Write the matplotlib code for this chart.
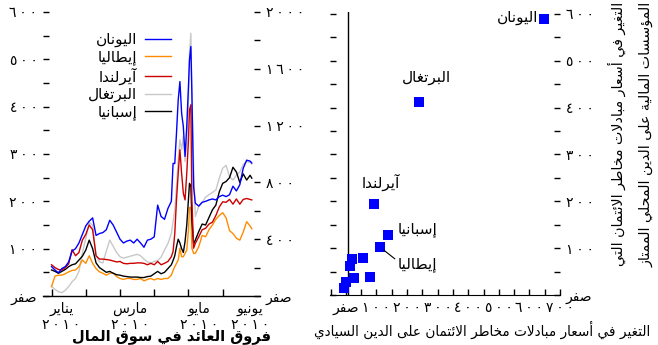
import re
import matplotlib
matplotlib.use("Agg")
import matplotlib.pyplot as plt
from matplotlib.ticker import MultipleLocator, FuncFormatter

plt.rcParams['font.family'] = ['DejaVu Sans']

# ---------------------------------------------------------------- Arabic text
# (isolated, final, initial, medial) presentation forms
_FORMS = {
    'ء': ('\uFE80', None, None, None),
    'آ': ('\uFE81', '\uFE82', None, None),
    'أ': ('\uFE83', '\uFE84', None, None),
    'ؤ': ('\uFE85', '\uFE86', None, None),
    'إ': ('\uFE87', '\uFE88', None, None),
    'ئ': ('\uFE89', '\uFE8A', '\uFE8B', '\uFE8C'),
    'ا': ('\uFE8D', '\uFE8E', None, None),
    'ب': ('\uFE8F', '\uFE90', '\uFE91', '\uFE92'),
    'ة': ('\uFE93', '\uFE94', None, None),
    'ت': ('\uFE95', '\uFE96', '\uFE97', '\uFE98'),
    'ث': ('\uFE99', '\uFE9A', '\uFE9B', '\uFE9C'),
    'ج': ('\uFE9D', '\uFE9E', '\uFE9F', '\uFEA0'),
    'ح': ('\uFEA1', '\uFEA2', '\uFEA3', '\uFEA4'),
    'خ': ('\uFEA5', '\uFEA6', '\uFEA7', '\uFEA8'),
    'د': ('\uFEA9', '\uFEAA', None, None),
    'ذ': ('\uFEAB', '\uFEAC', None, None),
    'ر': ('\uFEAD', '\uFEAE', None, None),
    'ز': ('\uFEAF', '\uFEB0', None, None),
    'س': ('\uFEB1', '\uFEB2', '\uFEB3', '\uFEB4'),
    'ش': ('\uFEB5', '\uFEB6', '\uFEB7', '\uFEB8'),
    'ص': ('\uFEB9', '\uFEBA', '\uFEBB', '\uFEBC'),
    'ض': ('\uFEBD', '\uFEBE', '\uFEBF', '\uFEC0'),
    'ط': ('\uFEC1', '\uFEC2', '\uFEC3', '\uFEC4'),
    'ظ': ('\uFEC5', '\uFEC6', '\uFEC7', '\uFEC8'),
    'ع': ('\uFEC9', '\uFECA', '\uFECB', '\uFECC'),
    'غ': ('\uFECD', '\uFECE', '\uFECF', '\uFED0'),
    'ف': ('\uFED1', '\uFED2', '\uFED3', '\uFED4'),
    'ق': ('\uFED5', '\uFED6', '\uFED7', '\uFED8'),
    'ك': ('\uFED9', '\uFEDA', '\uFEDB', '\uFEDC'),
    'ل': ('\uFEDD', '\uFEDE', '\uFEDF', '\uFEE0'),
    'م': ('\uFEE1', '\uFEE2', '\uFEE3', '\uFEE4'),
    'ن': ('\uFEE5', '\uFEE6', '\uFEE7', '\uFEE8'),
    'ه': ('\uFEE9', '\uFEEA', '\uFEEB', '\uFEEC'),
    'و': ('\uFEED', '\uFEEE', None, None),
    'ى': ('\uFEEF', '\uFEF0', None, None),
    'ي': ('\uFEF1', '\uFEF2', '\uFEF3', '\uFEF4'),
}
_LAMALEF = {'آ': ('\uFEF5', '\uFEF6'), 'أ': ('\uFEF7', '\uFEF8'),
            'إ': ('\uFEF9', '\uFEFA'), 'ا': ('\uFEFB', '\uFEFC')}
_DIGITS = '0123456789\u0660\u0661\u0662\u0663\u0664\u0665\u0666\u0667\u0668\u0669\u2009'


def _shape(text):
    toks, i = [], 0
    while i < len(text):
        c = text[i]
        if c == 'ل' and i + 1 < len(text) and text[i + 1] in _LAMALEF:
            toks.append(('LA', text[i + 1]))
            i += 2
        else:
            toks.append(c)
            i += 1
    out = []
    for k, t in enumerate(toks):
        prev = toks[k - 1] if k > 0 else None
        nxt = toks[k + 1] if k + 1 < len(toks) else None
        prev_joins = isinstance(prev, str) and prev in _FORMS and _FORMS[prev][2] is not None
        if isinstance(t, tuple):
            iso, fin = _LAMALEF[t[1]]
            out.append(fin if prev_joins else iso)
            continue
        f = _FORMS.get(t)
        if f is None:
            out.append(t)
            continue
        next_ar = nxt is not None and (isinstance(nxt, tuple) or nxt in _FORMS)
        can_next = f[2] is not None and next_ar
        can_prev = prev_joins and f[1] is not None
        if can_prev and can_next:
            out.append(f[3])
        elif can_prev:
            out.append(f[1])
        elif can_next:
            out.append(f[2])
        else:
            out.append(f[0])
    return ''.join(out)


def ar(text):
    """Shape Arabic text and lay it out right-to-left for display."""
    lines = []
    for line in text.split('\n'):
        s = _shape(line)
        parts = re.findall('[%s]+|[^%s]+' % (_DIGITS, _DIGITS), s)
        lines.append(''.join(p if p[0] in _DIGITS else p[::-1] for p in reversed(parts)))
    return '\n'.join(lines)


_IND = str.maketrans('0123456789', '\u0660\u0661\u0662\u0663\u0664\u0665\u0666\u0667\u0668\u0669')


def ar_digits(s):
    # Arabic-Indic digits, loosely spaced
    return '\u2009'.join(str(s).translate(_IND))


def ar_num(v):
    v = int(round(v))
    return ar('صفر') if v == 0 else ar_digits(v)


# ---------------------------------------------------------------- data
# time axis in months since 1 January 2010
months = [0.0, 0.1, 0.2, 0.3, 0.4, 0.5, 0.6, 0.7, 0.8, 0.9,
          1.0, 1.1, 1.2, 1.3, 1.4, 1.5, 1.6, 1.7, 1.8, 1.9,
          2.0, 2.1, 2.2, 2.3, 2.4, 2.5, 2.6, 2.7, 2.8, 2.9,
          3.0, 3.1, 3.2, 3.3, 3.4, 3.5,
          3.55, 3.6, 3.65, 3.7, 3.75, 3.8, 3.85, 3.9, 3.95, 4.0,
          4.03, 4.07, 4.1, 4.15, 4.2,
          4.3, 4.4, 4.5, 4.6, 4.7, 4.8, 4.9, 5.0, 5.1, 5.2, 5.3, 5.4, 5.5, 5.6, 5.7, 5.8,
          5.85]

greece = [62, 55, 49, 58, 62, 72, 95, 100, 112, 130,
          148, 158, 165, 128, 132, 134, 140, 160, 150, 135,
          120, 112, 116, 118, 112, 120, 112, 103, 118, 120,
          125, 192, 168, 162, 185, 200,
          280, 280, 344, 414, 453, 386, 358, 295, 358, 443,
          499, 527, 428, 231, 196,
          190, 198, 200, 203, 205, 203, 210, 213, 210, 214, 232, 222, 235, 270, 287, 285,
          281]

italy = [20, 42, 44, 44, 47, 51, 54, 55, 62, 76,
         69, 85, 69, 58, 51, 48, 44, 48, 49, 41,
         37, 35, 37, 37, 35, 35, 37, 32, 35, 37,
         34, 37, 35, 37, 37, 44,
         54, 62, 69, 76, 101, 83, 83, 90, 97, 140,
         187, 187, 101, 90, 90,
         104, 128, 125, 140, 150, 162, 170, 176, 165, 138, 132, 122, 118, 135, 157, 148,
         142]

ireland = [66, 60, 56, 55, 60, 68, 98, 85, 92, 118,
           130, 150, 140, 85, 78, 78, 77, 76, 74, 72,
           73, 69, 68, 69, 69, 70, 70, 69, 66, 69,
           66, 73, 66, 69, 73, 83,
           94, 132, 203, 259, 309, 259, 217, 203, 259, 330,
           393, 404, 203, 101, 111,
           125, 140, 143, 152, 156, 170, 188, 199, 198, 204, 194, 205, 194, 204, 206, 204,
           203]

portugal = [20, 14, 9, 7, 12, 20, 30, 37, 52, 90,
            122, 155, 150, 85, 72, 70, 95, 118, 105, 92,
            83, 80, 82, 84, 86, 88, 85, 78, 72, 70,
            73, 75, 82, 97, 111, 132,
            157, 182, 231, 288, 330, 309, 337, 284, 323, 414,
            513, 555, 428, 273, 168,
            189, 197, 209, 214, 219, 224, 249, 270, 276, 252, 245, 255, 262, 278, 284, 282,
            279]

spain = [55, 52, 48, 52, 56, 62, 66, 68, 76, 84,
         97, 118, 100, 70, 60, 55, 50, 52, 48, 45,
         44, 42, 41, 40, 40, 40, 39, 39, 41, 42,
         47, 52, 47, 50, 58, 66,
         75, 85, 104, 120, 112, 100, 92, 115, 150, 205,
         238, 232, 160, 110, 118,
         136, 152, 150, 166, 182, 192, 220, 238, 242, 250, 272, 262, 240, 258, 245, 255,
         249]

month_ticks = [0, 1, 2, 3, 4, 5]
month_label_pos = [0.29, 2.29, 4.31, 5.8]
month_labels = ['يناير', 'مارس', 'مايو', 'يونيو']
year_label = '2010'

# change in sovereign CDS (x) against change in financial-sector CDS (y)
scatter_names = ['اليونان', 'البرتغال', 'آيرلندا', 'إسبانيا', 'إيطاليا',
                 '', '', '', '', '', '', '']
scatter_x = [648, 240, 91, 136, 110, 19, 12, 56, 27, 78, -7, -1]
scatter_y = [589, 411, 194, 127, 103, 77, 62, 80, 37, 38, 15, 28]

# ---------------------------------------------------------------- figure
W, H = 658, 345
fig = plt.figure(figsize=(W / 100, H / 100), dpi=100)

TICK_FS = 10
BLUE = '#0000FF'

# ---- left panel: spreads over time
ax = fig.add_axes([43 / W, (H - 296) / H, 217 / W, 284 / H])
ax.set_xlim(-0.25, 6.09)
ax.set_ylim(0, 600)
for s in ['top', 'left', 'right']:
    ax.spines[s].set_visible(False)
ax.spines['bottom'].set_linewidth(1.0)

series = [
    ('البرتغال', portugal, '#C8C8C8'),
    ('إيطاليا', italy, '#FF8C00'),
    ('إسبانيا', spain, '#000000'),
    ('آيرلندا', ireland, '#CC0000'),
    ('اليونان', greece, BLUE),
]
handles = {}
for name, vals, col in series:
    ln, = ax.plot(months, vals, color=col, lw=1.0)
    handles[name] = ln

ax.yaxis.set_major_locator(MultipleLocator(100))
ax.yaxis.set_minor_locator(MultipleLocator(50))
ax.yaxis.set_major_formatter(FuncFormatter(lambda v, p: ar_num(v)))
ax.tick_params(axis='y', which='both', direction='in', length=4, width=1, labelsize=TICK_FS, pad=4)

ax.set_xticks(month_ticks)
ax.set_xticklabels([''] * len(month_ticks))
ax.tick_params(axis='x', which='major', direction='in', length=5, width=1)
ax.set_xticks(month_label_pos, minor=True)
ax.set_xticklabels([ar(m) + '\n' + ar_digits(year_label) for m in month_labels], minor=True)
ax.tick_params(axis='x', which='minor', length=0, labelsize=TICK_FS, pad=4)

axr = ax.twinx()
axr.set_ylim(0, 2000)
for s in axr.spines.values():
    s.set_visible(False)
axr.yaxis.set_major_locator(MultipleLocator(400))
axr.yaxis.set_minor_locator(MultipleLocator(200))
axr.yaxis.set_major_formatter(FuncFormatter(lambda v, p: ar_num(v)))
axr.tick_params(axis='y', which='both', direction='in', length=4, width=1, labelsize=TICK_FS, pad=4)

order = ['اليونان', 'إيطاليا', 'آيرلندا', 'البرتغال', 'إسبانيا']
leg = ax.legend([handles[n] for n in order], [ar(n) for n in order],
                loc='upper right', bbox_to_anchor=(171 / W, 1 - 32 / H),
                bbox_transform=fig.transFigure, frameon=False, markerfirst=False,
                fontsize=11, handlelength=1.7, handletextpad=0.5, labelspacing=0.15,
                borderpad=0, borderaxespad=0)

fig.text(172 / W, 1 / H, ar('فروق العائد في سوق المال'), ha='center', va='bottom',
         fontsize=10.5, fontweight='bold')

# ---- right panel: scatter
bx = fig.add_axes([330 / W, (H - 295) / H, 230 / W, 283 / H])
bx.set_xlim(-52, 700)
bx.set_ylim(0, 604)
for s in ['top', 'left', 'right']:
    bx.spines[s].set_visible(False)
bx.axvline(8, color='black', lw=1.0)
bx.plot(scatter_x, scatter_y, 's', color=BLUE, markersize=7.3, markeredgewidth=0, zorder=3)

bx.xaxis.set_major_locator(MultipleLocator(100))
bx.xaxis.set_minor_locator(MultipleLocator(50))
bx.xaxis.set_major_formatter(FuncFormatter(lambda v, p: ar_num(v)))
bx.tick_params(axis='x', which='both', direction='in', length=4, width=1, labelsize=TICK_FS, pad=4)
bx.yaxis.set_major_locator(MultipleLocator(100))
bx.yaxis.set_minor_locator(MultipleLocator(50))
bx.yaxis.set_major_formatter(FuncFormatter(lambda v, p: ar_num(v)))
bx.yaxis.tick_right()
bx.tick_params(axis='y', which='both', direction='in', length=4, width=1, labelsize=TICK_FS,
               pad=4, left=True, right=True, labelleft=False, labelright=True)
fig.canvas.draw()
bx.get_xticklabels()[0].set_ha('right')

# point labels: (offset in points, alignment)
label_specs = {
    'اليونان': ((-4, 1), 'right', 'center'),
    'البرتغال': ((5, 18), 'center', 'center'),
    'آيرلندا': ((5, 16), 'center', 'center'),
    'إسبانيا': ((7, 4), 'left', 'center'),
}
for name, x, y in zip(scatter_names, scatter_x, scatter_y):
    if name in label_specs:
        off, ha, va = label_specs[name]
        bx.annotate(ar(name), (x, y), xytext=off, textcoords='offset points',
                    ha=ha, va=va, fontsize=11)
    elif name == 'إيطاليا':
        bx.annotate(ar(name), (x, y), xytext=(13, -13), textcoords='offset points',
                    ha='left', va='center', fontsize=11,
                    arrowprops=dict(arrowstyle='-', color='black', lw=0.8,
                                    shrinkA=0, shrinkB=4, relpos=(0, 0.75)))

fig.text(482 / W, 15 / H, ar('التغير في أسعار مبادلات مخاطر الائتمان على الدين السيادي'),
         ha='center', va='center', fontsize=9.8)
fig.text(617 / W, 0.995, ar('التغير في أسعار مبادلات مخاطر الائتمان التي'),
         rotation=90, ha='center', va='top', fontsize=10.3)
fig.text(646 / W, 0.995, ar('المؤسسات المالية على الدين المحلي الممتاز'),
         rotation=90, ha='center', va='top', fontsize=10.3)

fig.savefig('out.png', dpi=100)
